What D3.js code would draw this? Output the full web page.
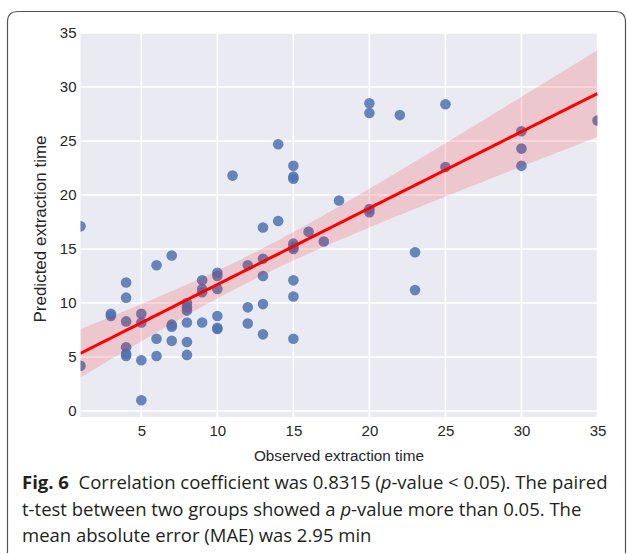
<!DOCTYPE html>
<html>
<head>
<meta charset="utf-8">
<script src="https://cdn.jsdelivr.net/npm/d3@7"></script>
<style>
  body { margin: 0; background: #fff; }
  svg { display: block; }
</style>
</head>
<body>
<svg id="chart"></svg>
<script>
// observed (x) and predicted (y) extraction time
const observed = [
  1, 1,
  3, 3,
  4, 4, 4, 4, 4, 4,
  5, 5, 5, 5,
  6, 6, 6,
  7, 7, 7, 7,
  8, 8, 8, 8, 8, 8,
  9, 9, 9, 9,
  10, 10, 10, 10, 10, 10,
  11,
  12, 12, 12,
  13, 13, 13, 13, 13,
  14, 14,
  15, 15, 15, 15, 15, 15, 15, 15, 15,
  16, 17, 18,
  20, 20, 20, 20,
  22,
  23, 23,
  25, 25,
  30, 30, 30,
  35
];
const predicted = [
  17.1, 4.2,
  9.0, 8.8,
  11.9, 10.5, 8.3, 5.9, 5.3, 5.1,
  9.0, 8.2, 4.7, 1.0,
  13.5, 6.7, 5.1,
  14.4, 8.0, 7.8, 6.5,
  10.0, 9.6, 9.3, 8.2, 6.4, 5.2,
  12.1, 11.3, 11.0, 8.2,
  12.8, 12.5, 11.3, 8.8, 7.7, 7.6,
  21.8,
  13.5, 9.6, 8.1,
  17.0, 14.1, 12.5, 9.9, 7.1,
  24.7, 17.6,
  22.7, 21.7, 21.5, 15.5, 15.2, 15.0, 12.1, 10.6, 6.7,
  16.6, 15.7, 19.5,
  28.5, 27.6, 18.7, 18.4,
  27.4,
  14.7, 11.2,
  28.4, 22.6,
  25.9, 24.3, 22.7,
  26.9
];
const xTicks = [5, 10, 15, 20, 25, 30, 35];
const yTicks = [0, 5, 10, 15, 20, 25, 30, 35];
const captionLines = [
  [{t: "Fig. 6", b: true}, {t: "  Correlation coefficient was 0.8315 ("}, {t: "p", i: true}, {t: "-value < 0.05). The paired"}],
  [{t: "t-test between two groups showed a "}, {t: "p", i: true}, {t: "-value more than 0.05. The"}],
  [{t: "mean absolute error (MAE) was 2.95 min"}]
];

const W = 627, H = 554;
const margin = {left: 80.5, top: 33, right: 29.5, bottom: 137};
const plotW = W - margin.left - margin.right;
const plotH = H - margin.top - margin.bottom;

const svg = d3.select("#chart").attr("width", W).attr("height", H);

// outer frame
svg.append("path")
   .attr("d", "M7.5,553 L7.5,22 Q7.5,11.5 18,11.5 L615,11.5 Q625.5,11.5 625.5,22 L625.5,553")
   .attr("fill", "none")
   .attr("stroke", "#555")
   .attr("stroke-width", 1.2);

const g = svg.append("g").attr("transform", `translate(${margin.left},${margin.top})`);

const x = d3.scaleLinear().domain([1, 35]).range([0, plotW]);
const y = d3.scaleLinear().domain([-0.55, 35]).range([plotH, 0]);

g.append("rect").attr("width", plotW).attr("height", plotH).attr("fill", "#EAEAF2");

g.append("g").selectAll("line").data(xTicks).join("line")
 .attr("x1", d => x(d)).attr("x2", d => x(d)).attr("y1", 0).attr("y2", plotH)
 .attr("stroke", "#fff").attr("stroke-width", 1.6);
g.append("g").selectAll("line").data(yTicks).join("line")
 .attr("y1", d => y(d)).attr("y2", d => y(d)).attr("x1", 0).attr("x2", plotW)
 .attr("stroke", "#fff").attr("stroke-width", 1.6);

// axes (no domain line, no ticks, like seaborn darkgrid)
const xAxis = g.append("g").attr("transform", `translate(0,${plotH})`)
  .call(d3.axisBottom(x).tickValues(xTicks).tickSize(0).tickPadding(8));
const yAxis = g.append("g")
  .call(d3.axisLeft(y).tickValues(yTicks).tickSize(0).tickPadding(4));
[xAxis, yAxis].forEach(a => {
  a.select(".domain").remove();
  a.selectAll("text").attr("font-family", "Liberation Sans, Arial, sans-serif")
   .attr("font-size", "15px").attr("fill", "#262626");
});

// points
const pts = observed.map((v, i) => ({x: v, y: predicted[i]}));
const clip = g.append("clipPath").attr("id", "clip").append("rect").attr("width", plotW).attr("height", plotH);
const inner = g.append("g").attr("clip-path", "url(#clip)");
inner.selectAll("circle").data(pts).join("circle")
  .attr("cx", d => x(d.x)).attr("cy", d => y(d.y)).attr("r", 5.3)
  .attr("fill", "#4C72B0").attr("fill-opacity", 0.85);

// least squares fit + confidence band around it
const n = pts.length;
const mx = d3.mean(pts, d => d.x), my = d3.mean(pts, d => d.y);
const sxx = d3.sum(pts, d => (d.x - mx) ** 2);
const sxy = d3.sum(pts, d => (d.x - mx) * (d.y - my));
const slope = sxy / sxx, icpt = my - slope * mx;
const s = Math.sqrt(d3.sum(pts, d => (d.y - icpt - slope * d.x) ** 2) / (n - 2));
const tcrit = 2.37;
const grid = d3.range(0, 101).map(k => 1 + k * 34 / 100);
const band = grid.map(v => {
  const fit = icpt + slope * v;
  const h = tcrit * s * Math.sqrt(1 / n + (v - mx) ** 2 / sxx);
  return {x: v, lo: fit - h, hi: fit + h, fit};
});
inner.append("path").datum(band)
  .attr("d", d3.area().x(d => x(d.x)).y0(d => y(d.lo)).y1(d => y(d.hi)))
  .attr("fill", "red").attr("fill-opacity", 0.15);
inner.append("path").datum(band)
  .attr("d", d3.line().x(d => x(d.x)).y(d => y(d.fit)))
  .attr("fill", "none").attr("stroke", "red").attr("stroke-width", 3);

// axis titles
svg.append("text").attr("x", margin.left + plotW / 2).attr("y", 461)
  .attr("text-anchor", "middle").attr("font-family", "Liberation Sans, Arial, sans-serif")
  .attr("font-size", "15.3px").attr("fill", "#262626").text("Observed extraction time");
svg.append("text").attr("transform", `translate(46,229) rotate(-90)`)
  .attr("text-anchor", "middle").attr("font-family", "Liberation Sans, Arial, sans-serif")
  .attr("font-size", "17px").attr("fill", "#262626").text("Predicted extraction time");

// caption
const cap = svg.append("g").attr("font-family", "Open Sans, sans-serif").attr("font-size", "18.5px").attr("fill", "#231f20");
captionLines.forEach((line, i) => {
  const t = cap.append("text").attr("x", 22).attr("y", 489 + i * 26.5).attr("xml:space", "preserve");
  line.forEach(seg => {
    t.append("tspan").text(seg.t)
     .attr("font-weight", seg.b ? "bold" : null)
     .attr("font-style", seg.i ? "italic" : null);
  });
});
</script>
</body>
</html>
